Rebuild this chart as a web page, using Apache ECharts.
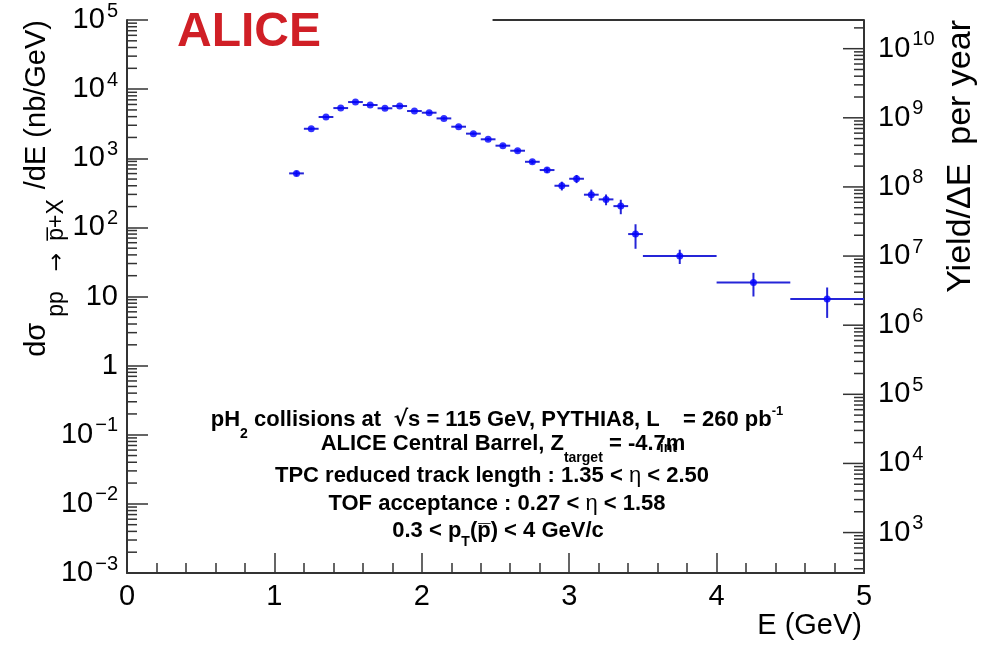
<!DOCTYPE html>
<html><head><meta charset="utf-8">
<script src="https://cdn.jsdelivr.net/npm/echarts@6/dist/echarts.min.js"></script>
<style>html,body{margin:0;padding:0;background:#fff}#c{width:997px;height:650px}</style>
</head><body><div id="c"></div>
<script>
// ---- data ----
const energy = [1.15,1.25,1.35,1.45,1.55,1.65,1.75,1.85,1.95,2.05,2.15,2.25,2.35,2.45,2.55,2.65,2.75,2.85,2.95,3.05,3.15,3.25,3.35,3.45,3.75,4.25,4.75];
const binHalfWidth = [0.05,0.05,0.05,0.05,0.05,0.05,0.05,0.05,0.05,0.05,0.05,0.05,0.05,0.05,0.05,0.05,0.05,0.05,0.05,0.05,0.05,0.05,0.05,0.05,0.25,0.25,0.25];
const crossSection = [604,2670,3950,5320,6500,5890,5280,5690,4820,4560,3770,2860,2270,1880,1520,1285,889,675,400,505,297,254,203,80,38.5,16.0,9.2];
const crossSectionErr = [55,110,150,190,230,210,190,200,170,160,135,105,90,80,70,65,60,60,58,68,55,45,48,31,9,6,4.3];
const lumi = 2.6e5;                 // 260 pb^-1 in nb^-1 : Yield/ΔE = dσ/dE × L
const xTicks = [0,1,2,3,4,5];
const leftDecades = [-3,-2,-1,0,1,2,3,4,5];
const rightDecades = [3,4,5,6,7,8,9,10];
const textLines = [
  'pH{sub|2} collisions at  {b|√}s = 115 GeV, PYTHIA8, L{subl|int} = 260 pb{sup|-1}',
  'ALICE Central Barrel, Z{sub|target} = -4.7m',
  'TPC reduced track length : 1.35 < {eta|η} < 2.50',
  'TOF acceptance : 0.27 < {eta|η} < 1.58',
  '0.3 < p{subt|T}(p\u0305) < 4 GeV/c'
];

// ---- derived ----
const FF = 'Liberation Sans, Arial, Helvetica, sans-serif';
const yMin = Math.pow(10, leftDecades[0]), yMax = Math.pow(10, leftDecades[leftDecades.length-1]);
const leftMinor = [];
for (let i = 0; i < leftDecades.length-1; i++) for (let k = 2; k <= 9; k++) leftMinor.push([0, k*Math.pow(10, leftDecades[i])]);
const rMin = yMin*lumi, rMax = yMax*lumi;
const rightTicks = [];
for (let n = rightDecades[0]-1; n <= rightDecades[rightDecades.length-1]; n++) {
  for (let k = 1; k <= 9; k++) {
    const v = k*Math.pow(10, n);
    if (v >= rMin && v <= rMax) rightTicks.push([xTicks[xTicks.length-1], v/lumi, k===1?1:0, n]);
  }
}
const expStr = e => e < 0 ? '\u2212' + (-e) : String(e);
const supRich = {
  base: {fontSize: 29, fontFamily: FF, color: '#000', fill: '#000'},
  sup: {fontSize: 20, fontFamily: FF, color: '#000', fill: '#000', padding: [0,0,18,2]}
};

const chart = echarts.init(document.getElementById('c'), null, {renderer: 'canvas'});
const option = {
  animation: false,
  backgroundColor: '#fff',
  grid: {left: 127, right: 133, top: 20, bottom: 77, containLabel: false},
  xAxis: {
    type: 'value', min: xTicks[0], max: xTicks[xTicks.length-1], interval: 1,
    axisLine: {show: true, onZero: false, lineStyle: {color: '#333', width: 2}},
    axisTick: {show: true, inside: true, length: 20, lineStyle: {color: '#333', width: 1.5}},
    minorTick: {show: true, splitNumber: 5, length: 10, lineStyle: {color: '#333', width: 1.5}},
    splitLine: {show: false},
    axisLabel: {fontSize: 29, fontFamily: FF, color: '#000', margin: 9}
  },
  yAxis: [{
    type: 'log', logBase: 10, min: yMin, max: yMax, splitNumber: 8,
    axisLine: {show: true, lineStyle: {color: '#333', width: 2}},
    axisTick: {show: true, inside: true, length: 21, lineStyle: {color: '#333', width: 1.5}},
    splitLine: {show: false},
    axisLabel: {
      margin: 9, fontSize: 29, fontFamily: FF, color: '#000',
      formatter: function (v) {
        const e = Math.round(Math.log10(v));
        if (e === 0) return '{base|1}';
        if (e === 1) return '{base|10}';
        return '{base|10}{sup|' + expStr(e) + '}';
      },
      rich: supRich
    }
  }, {
    type: 'value', position: 'right', min: 0, max: 1,
    axisLine: {show: true, lineStyle: {color: '#333', width: 2}},
    axisTick: {show: false}, axisLabel: {show: false}, splitLine: {show: false}
  }],
  series: [
    { // left minor log ticks
      type: 'custom', silent: true, xAxisIndex: 0, yAxisIndex: 0, data: leftMinor,
      encode: {x: 0, y: 1},
      renderItem: function (params, api) {
        const p = api.coord([api.value(0), api.value(1)]);
        return {type: 'line', shape: {x1: p[0], y1: p[1], x2: p[0] + 10, y2: p[1]}, style: {stroke: '#333', lineWidth: 1.5}};
      }
    },
    { // right axis (Yield/ΔE) ticks + labels
      type: 'custom', silent: true, xAxisIndex: 0, yAxisIndex: 0, data: rightTicks,
      encode: {x: 0, y: 1},
      renderItem: function (params, api) {
        const p = api.coord([api.value(0), api.value(1)]);
        const major = api.value(2) === 1;
        const len = major ? 21 : 10;
        const children = [{type: 'line', shape: {x1: p[0] - len, y1: p[1], x2: p[0], y2: p[1]}, style: {stroke: '#333', lineWidth: 1.5}}];
        if (major) {
          children.push({type: 'text', style: {
            x: p[0] + 14, y: p[1], text: '{base|10}{sup|' + expStr(api.value(3)) + '}',
            rich: supRich, align: 'left', verticalAlign: 'middle', fontSize: 29, fontFamily: FF, fill: '#000'
          }});
        }
        return {type: 'group', children: children};
      }
    },
    { // error bars
      type: 'custom', silent: true, xAxisIndex: 0, yAxisIndex: 0,
      data: energy.map((e, i) => [e, crossSection[i], binHalfWidth[i], crossSectionErr[i]]),
      encode: {x: 0, y: 1},
      renderItem: function (params, api) {
        const e = api.value(0), v = api.value(1), hw = api.value(2), er = api.value(3);
        const l = api.coord([e - hw, v]), r = api.coord([e + hw, v]);
        const t = api.coord([e, v + er]), b = api.coord([e, v - er]);
        const st = {stroke: '#2525d8', lineWidth: 2};
        return {type: 'group', children: [
          {type: 'line', shape: {x1: l[0], y1: l[1], x2: r[0], y2: r[1]}, style: st},
          {type: 'line', shape: {x1: t[0], y1: t[1], x2: b[0], y2: b[1]}, style: st}
        ]};
      }
    },
    {
      type: 'scatter', xAxisIndex: 0, yAxisIndex: 0, symbol: 'circle', symbolSize: 7,
      itemStyle: {color: '#0000ff'}, silent: true, z: 5,
      data: energy.map((e, i) => [e, crossSection[i]])
    }
  ]
};
chart.setOption(option);

// frame top line (only the visible part, right of the ALICE label box)
const tl = chart.convertToPixel({xAxisIndex: 0, yAxisIndex: 0}, [2.48, yMax]);
const tr = chart.convertToPixel({xAxisIndex: 0, yAxisIndex: 0}, [xTicks[xTicks.length-1], yMax]);

const boxRich = {
  sub: {fontSize: 14, fontWeight: 'bold', fontFamily: FF, fill: '#000', padding: [28,0,0,0]},
  subl: {fontSize: 14, fontWeight: 'bold', fontFamily: FF, fill: '#000', padding: [56,0,0,0]},
  subt: {fontSize: 14, fontWeight: 'bold', fontFamily: FF, fill: '#000', padding: [22,0,0,0]},
  sup: {fontSize: 13, fontWeight: 'bold', fontFamily: FF, fill: '#000', padding: [0,0,17,0]},
  eta: {fontSize: 22, fontWeight: 'normal', fontFamily: FF, fill: '#000'},
  b: {fontSize: 22, fontWeight: 'bold', fontFamily: 'DejaVu Sans', fill: '#000'}
};
const subBase = {fontSize: 23, fontFamily: FF, fill: '#000', padding: [40,0,0,0]};
const lineCenters = [[497, 420], [503, 444], [492, 476], [497, 504], [498, 531]];
const graphics = [
  {type: 'line', shape: {x1: tl[0], y1: tr[1], x2: tr[0], y2: tr[1]}, style: {stroke: '#333', lineWidth: 2}},
  {type: 'text', x: 177, y: 33, style: {text: 'ALICE', fontSize: 48, fontWeight: 'bold', fontFamily: FF, fill: '#d01f26', align: 'left', verticalAlign: 'middle'}},
  {type: 'text', x: 862, y: 626, style: {text: 'E (GeV)', fontSize: 29, fontFamily: FF, fill: '#000', align: 'right', verticalAlign: 'middle'}},
  {type: 'text', x: 37, y: 20, rotation: Math.PI/2, style: {
    text: 'dσ{s1|pp}{ar|→}{s2|p\u0305+X}/dE (nb/GeV)', fontSize: 29, fontFamily: FF, fill: '#000', align: 'right', verticalAlign: 'middle',
    rich: {
      s1: Object.assign({}, subBase, {padding: [40,8,0,6]}),
      ar: {fontSize: 22, fontFamily: 'DejaVu Sans', fill: '#000', padding: [40,12,0,12]},
      s2: Object.assign({}, subBase, {padding: [40,10,0,0]})
    }
  }},
  {type: 'text', x: 961, y: 20, rotation: Math.PI/2, style: {
    text: 'Yield/ΔE  per year', fontSize: 34, fontFamily: FF, fill: '#000', align: 'right', verticalAlign: 'middle'
  }}
];
textLines.forEach((t, i) => {
  graphics.push({type: 'text', x: lineCenters[i][0], y: lineCenters[i][1], style: {
    text: t, rich: boxRich, fontSize: 22, fontWeight: 'bold', fontFamily: FF, fill: '#000', align: 'center', verticalAlign: 'middle'
  }});
});
chart.setOption({graphic: {elements: graphics}});
</script>
</body></html>
